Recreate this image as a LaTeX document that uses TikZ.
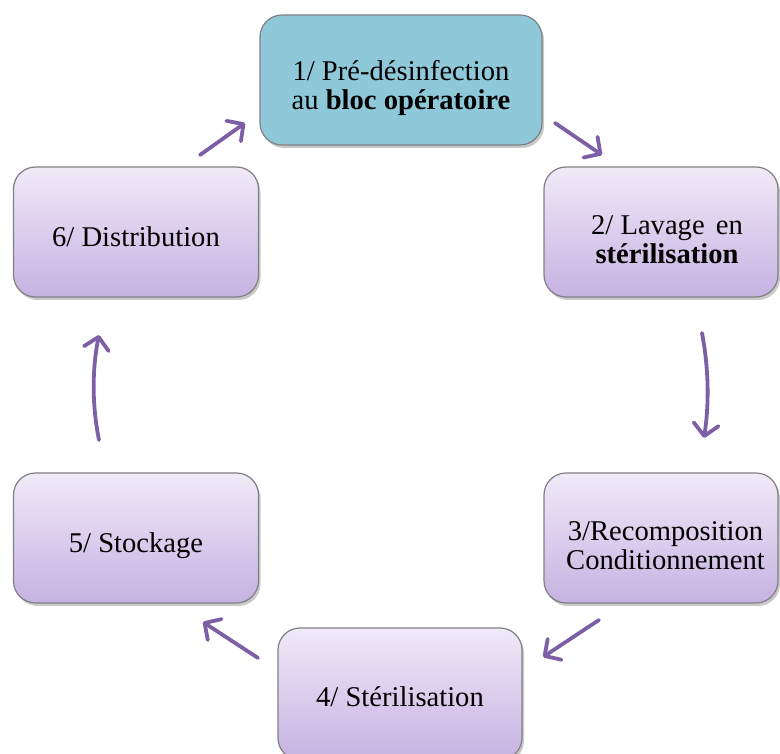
\documentclass[tikz,border=0pt]{standalone}
\usepackage{fontspec}
\setmainfont{Liberation Serif}
\usetikzlibrary{arrows.meta,shadows}
\definecolor{tealfill}{RGB}{143,201,217}
\definecolor{lavtop}{RGB}{240,234,248}
\definecolor{lavbot}{RGB}{198,178,226}
\definecolor{boxline}{RGB}{128,128,132}
\definecolor{arrowpurple}{RGB}{125,95,166}
\newcommand{\topstrut}{\rule{0pt}{37pt}}
\newcommand{\topstrutb}{\rule{0pt}{41pt}}
\newcommand{\botstrut}{\rule[-6pt]{0pt}{6pt}}
\newcommand{\onestrut}{\rule[-7pt]{0pt}{44pt}}
\tikzset{
  stepbox/.style={draw=boxline, line width=1.2pt, rounded corners=22pt,
    align=center, font=\fontsize{28.6}{29}\selectfont, text=black,
    drop shadow={shadow xshift=2pt, shadow yshift=-3pt, opacity=0.3, fill=black!70}},
  lavbox/.style={stepbox, top color=lavtop, bottom color=lavbot},
  tealbox/.style={stepbox, fill=tealfill},
  flow/.style={draw=arrowpurple, line width=3.8pt, line cap=round,
    -{Straight Barb[length=12pt, width=25pt, line cap=round, line join=round]}}
}
\begin{document}
\begin{tikzpicture}[x=1pt,y=1pt]
\useasboundingbox (0,0) rectangle (780,754);
\clip (0,0) rectangle (780,754);
\node[tealbox, minimum width=282pt, minimum height=130pt] (n1) at (401,674)
  {\topstrut 1/ Pré-désinfection\\au \textbf{bloc opératoire}\botstrut};
\node[lavbox, minimum width=234pt, minimum height=130pt] (n2) at (661,522)
  {\topstrutb\hspace*{12pt}2/ Lavage\hspace{4pt} en\\\hspace*{12pt}\textbf{stérilisation}\botstrut};
\node[lavbox, minimum width=234pt, minimum height=130pt] (n3) at (661,216)
  {\topstrutb\hspace*{9pt}3/Recomposition\\\hspace*{9pt}Conditionnement\botstrut};
\node[lavbox, minimum width=244pt, minimum height=132pt] (n4) at (400,60)
  {\rule[-7pt]{0pt}{40pt}4/ Stérilisation};
\node[lavbox, minimum width=245pt, minimum height=130pt] (n5) at (136,216)
  {\onestrut 5/ Stockage};
\node[lavbox, minimum width=245pt, minimum height=130pt] (n6) at (136,522)
  {\onestrut 6/ Distribution};
% arrow end points
\coordinate (a61s) at (200,599); \coordinate (a61e) at (245,631);
\coordinate (a12s) at (555,631); \coordinate (a12e) at (602,599);
\coordinate (a23s) at (702,421); \coordinate (a23e) at (704,316);
\coordinate (a34s) at (599,134); \coordinate (a34e) at (543,97);
\coordinate (a45s) at (258,96);  \coordinate (a45e) at (203,132);
\coordinate (a56s) at (99,314);  \coordinate (a56e) at (99,419);
\draw[flow] (a61s) -- (a61e);
\draw[flow] (a12s) -- (a12e);
\draw[flow] (a23s) .. controls (709,384) and (709,349) .. (a23e);
\draw[flow] (a34s) -- (a34e);
\draw[flow] (a45s) -- (a45e);
\draw[flow] (a56s) .. controls (92,349) and (92,384) .. (a56e);
\end{tikzpicture}
\end{document}
